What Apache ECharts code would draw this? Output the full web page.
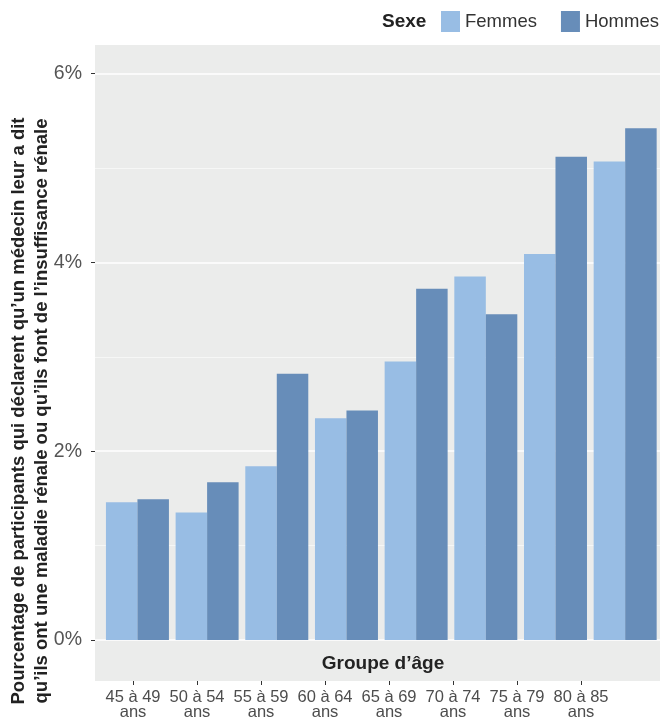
<!DOCTYPE html>
<html>
<head>
<meta charset="utf-8">
<script src="https://cdn.jsdelivr.net/npm/echarts@6/dist/echarts.min.js"></script>
<style>html,body{margin:0;padding:0;background:#fff;}#c{width:660px;height:727px;}</style>
</head>
<body>
<div id="c"></div>
<script>
const categories = ['45 à 49 ans','50 à 54 ans','55 à 59 ans','60 à 64 ans','65 à 69 ans','70 à 74 ans','75 à 79 ans','80 à 85 ans'];
const tickLabels = ['45 à 49\nans','50 à 54\nans','55 à 59\nans','60 à 64\nans','65 à 69\nans','70 à 74\nans','75 à 79\nans','80 à 85\nans'];
const femmes = [1.46, 1.35, 1.84, 2.35, 2.95, 3.85, 4.09, 5.07];
const hommes = [1.49, 1.67, 2.82, 2.43, 3.72, 3.45, 5.12, 5.42];
const yTicks = [0, 2, 4, 6];

const FONT = '"Liberation Sans", Arial, sans-serif';

const chart = echarts.init(document.getElementById('c'), null, {renderer: 'canvas'});
try {
chart.setOption({
  animation: false,
  backgroundColor: '#ffffff',
  title: {
    text: 'Sexe', left: 382, top: 12, padding: 0,
    textStyle: {fontFamily: FONT, fontWeight: 'bold', fontSize: 19, color: '#222222'}
  },
  legend: {
    left: 441, top: 11, padding: 0, width: 300, orient: 'horizontal',
    itemWidth: 19, itemHeight: 21, itemGap: 24,
    icon: 'rect',
    textStyle: {fontFamily: FONT, fontSize: 18.5, color: '#333333'},
    data: ['Femmes', 'Hommes']
  },
  grid: [
    {left: 95, right: 0, top: 45, bottom: 46, show: true, backgroundColor: '#ebeceb', borderWidth: 0},
    {left: 95, right: 0, top: 73.6, bottom: 87},
    {left: 102.6, right: 0, top: 73.6, bottom: 87},
    {left: 101, width: 512, top: 45, bottom: 46}
  ],
  xAxis: [
    {gridIndex: 0, type: 'category', data: categories, show: false},
    {gridIndex: 1, type: 'category', data: categories, show: false},
    {gridIndex: 2, type: 'category', data: categories, show: false},
    {gridIndex: 3, type: 'category', data: tickLabels, position: 'bottom',
      axisLine: {show: false},
      axisTick: {show: true, alignWithLabel: true, length: 4, lineStyle: {color: '#333333'}},
      axisLabel: {fontFamily: FONT, fontSize: 16.5, lineHeight: 15, color: '#4d4d4d', margin: 9, interval: 0}
    }
  ],
  yAxis: [
    {gridIndex: 0, type: 'value', min: 0, max: 1, show: false},
    {gridIndex: 1, type: 'value', min: yTicks[0], max: yTicks[yTicks.length - 1], interval: 2,
      axisLine: {show: false},
      axisTick: {show: true, length: 4, lineStyle: {color: '#333333'}},
      axisLabel: {fontFamily: FONT, fontSize: 19.5, color: '#555555', margin: 13, formatter: '{value}%'},
      splitLine: {show: true, lineStyle: {color: '#ffffff', width: 1.6}},
      minorTick: {show: false, splitNumber: 2},
      minorSplitLine: {show: true, lineStyle: {color: '#f6f7f6', width: 1.2}}
    },
    {gridIndex: 2, type: 'value', min: 0, max: 6, show: false},
    {gridIndex: 3, type: 'value', min: 0, max: 1, show: false}
  ],
  series: [
    {name: 'Femmes', type: 'bar', xAxisIndex: 2, yAxisIndex: 2, data: femmes,
      itemStyle: {color: '#98bde4'}, barGap: '0%', barCategoryGap: '9.6%'},
    {name: 'Hommes', type: 'bar', xAxisIndex: 2, yAxisIndex: 2, data: hommes,
      itemStyle: {color: '#678db9'}, barGap: '0%', barCategoryGap: '9.6%'}
  ],
  graphic: [
    {type: 'text', x: 383, y: 664, silent: true,
      style: {text: 'Groupe d\u2019âge', fontFamily: FONT, fontWeight: 'bold', fontSize: 19, fill: '#222222',
        align: 'center', verticalAlign: 'middle'}},
    {type: 'text', x: 30.5, y: 411, rotation: Math.PI / 2, silent: true,
      style: {text: 'Pourcentage de participants qui déclarent qu\u2019un médecin leur a dit\nqu\u2019ils ont une maladie rénale ou qu\u2019ils font de l\u2019insuffisance rénale',
        fontFamily: FONT, fontWeight: 'bold', fontSize: 18.5, lineHeight: 23, fill: '#222222',
        align: 'center', verticalAlign: 'middle'}}
  ]
});
} catch (e) { console.error(e && e.stack); }
</script>
</body>
</html>
